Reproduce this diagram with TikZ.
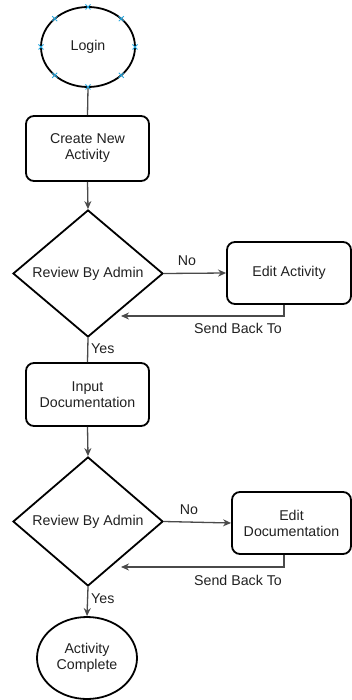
\documentclass[tikz,border=0pt]{standalone}
\usepackage{fontspec}
\setmainfont{Liberation Sans}
\usetikzlibrary{shapes.geometric,arrows.meta}
\definecolor{txt}{HTML}{202020}
\definecolor{conn}{HTML}{4A4A4A}
\definecolor{mark}{HTML}{29A8E0}
\tikzset{
  base/.style={draw=black, line width=1.8pt, inner sep=0pt, align=center, text=txt,
    font=\fontsize{14.2}{16}\selectfont},
  term/.style={base, ellipse},
  procbox/.style={base, rectangle, rounded corners=8pt},
  decide/.style={base, diamond},
  conline/.style={draw=conn, line width=1.3pt},
  arr/.style={conline, -{Stealth[length=8pt,width=7pt]}},
  lbl/.style={text=txt, inner sep=0pt, font=\fontsize{14.2}{16}\selectfont},
  xmark/.style={draw=mark, line width=0.8pt}
}
\begin{document}
\begin{tikzpicture}[x=1pt,y=-1pt]
\useasboundingbox (0,0) rectangle (352,700);
% nodes
\node[term, minimum width=94pt, minimum height=80pt] (login) at (88,47) {Login};
\node[procbox, minimum width=123pt, minimum height=65pt] (create) at (87.5,148.5) {Create New\\Activity};
\node[decide, minimum width=150pt, minimum height=127pt] (d1) at (88,273.5) {Review By Admin};
\node[procbox, minimum width=124pt, minimum height=62pt] (edit1) at (289,273) {Edit Activity};
\node[procbox, minimum width=123pt, minimum height=63pt] (input) at (87.5,394.5) {Input\\Documentation};
\node[decide, minimum width=150pt, minimum height=129pt] (d2) at (88,521.5) {Review By Admin};
\node[procbox, minimum width=119pt, minimum height=62pt] (edit2) at (291.5,523) {Edit\\Documentation};
\node[term, minimum width=100pt, minimum height=82pt] (done) at (87,658) {Activity\\Complete};
\coordinate (sb1) at (121,316);
\coordinate (sb2) at (121,567);
% selection markers on Login
\foreach \a in {0,45,...,315}{
  \path (login.center) ++(\a:47pt and 40pt) coordinate (m);
  \draw[xmark] ([shift={(-2.5pt,-2.5pt)}]m) -- ([shift={(2.5pt,2.5pt)}]m)
               ([shift={(-2.5pt,2.5pt)}]m) -- ([shift={(2.5pt,-2.5pt)}]m);
}
% connectors
\draw[conline] (login.south) -- (create.north);
\draw[arr] (create.south) -- (d1.north);
\draw[arr] (d1.east) -- (edit1.west);
\draw[arr] ([xshift=-5pt]edit1.south) |- (sb1);
\draw[conline] (d1.south) -- (input.north);
\draw[arr] (input.south) -- (d2.north);
\draw[arr] (d2.east) -- (edit2.west);
\draw[arr] ([xshift=-7.5pt]edit2.south) |- (sb2);
\draw[arr] (d2.south) -- (done.north);
% labels
\node[lbl] (no1) at (187,261) {No};
\node[lbl] (sbt1) at (238,328) {Send Back To};
\node[lbl, anchor=west] (yes1) at (91,349) {Yes};
\node[lbl] (no2) at (189,510) {No};
\node[lbl] (sbt2) at (238,580) {Send Back To};
\node[lbl, anchor=west] (yes2) at (91,599) {Yes};
\end{tikzpicture}
\end{document}
